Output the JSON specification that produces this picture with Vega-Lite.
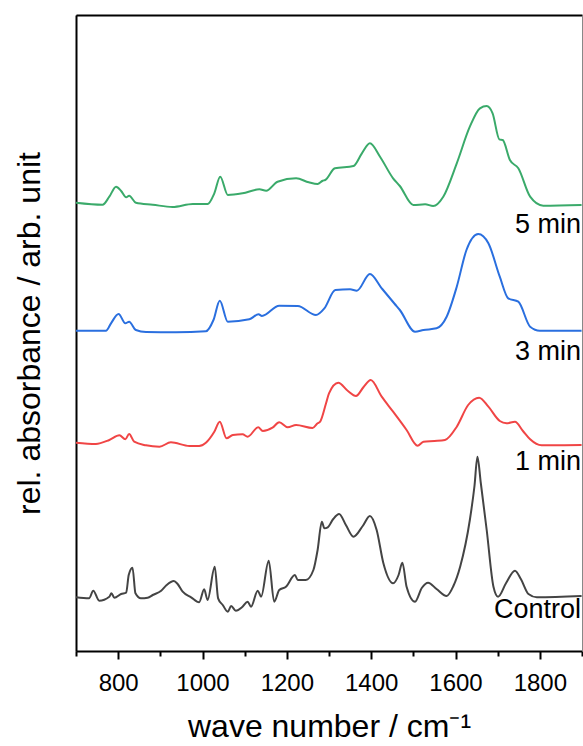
{
  "$schema": "https://vega.github.io/schema/vega-lite/v6.json",
  "width": 506,
  "height": 636,
  "autosize": "none",
  "padding": {"left": 76, "top": 15, "right": 1, "bottom": 95},
  "config": {
    "view": {"stroke": "#888", "strokeWidth": 1},
    "font": "Liberation Sans",
    "axis": {"grid": false, "labelFont": "Liberation Sans", "titleFont": "Liberation Sans", "labelColor": "#000", "titleColor": "#000", "titleFontWeight": "normal"}
  },
  "datasets": {
    "spectra": [
      {"s":"Control","w":700,"a":0.537},{"s":"Control","w":731,"a":0.527},{"s":"Control","w":741,"a":0.603},{"s":"Control","w":755,"a":0.503},{"s":"Control","w":779,"a":0.543},{"s":"Control","w":784,"a":0.577},{"s":"Control","w":791,"a":0.533},{"s":"Control","w":807,"a":0.57},{"s":"Control","w":819,"a":0.583},{"s":"Control","w":825,"a":0.76},{"s":"Control","w":834,"a":0.833},{"s":"Control","w":841,"a":0.577},{"s":"Control","w":854,"a":0.527},{"s":"Control","w":870,"a":0.533},{"s":"Control","w":882,"a":0.56},{"s":"Control","w":902,"a":0.603},{"s":"Control","w":915,"a":0.66},{"s":"Control","w":932,"a":0.70},{"s":"Control","w":941,"a":0.67},{"s":"Control","w":953,"a":0.593},{"s":"Control","w":973,"a":0.537},{"s":"Control","w":992,"a":0.487},{"s":"Control","w":1004,"a":0.617},{"s":"Control","w":1012,"a":0.51},{"s":"Control","w":1029,"a":0.843},{"s":"Control","w":1037,"a":0.527},{"s":"Control","w":1048,"a":0.46},{"s":"Control","w":1060,"a":0.393},{"s":"Control","w":1068,"a":0.45},{"s":"Control","w":1079,"a":0.403},{"s":"Control","w":1095,"a":0.443},{"s":"Control","w":1107,"a":0.493},{"s":"Control","w":1115,"a":0.443},{"s":"Control","w":1131,"a":0.603},{"s":"Control","w":1139,"a":0.543},{"s":"Control","w":1157,"a":0.903},{"s":"Control","w":1170,"a":0.493},{"s":"Control","w":1182,"a":0.61},{"s":"Control","w":1198,"a":0.643},{"s":"Control","w":1219,"a":0.76},{"s":"Control","w":1226,"a":0.71},{"s":"Control","w":1245,"a":0.71},{"s":"Control","w":1263,"a":0.81},{"s":"Control","w":1273,"a":1.01},{"s":"Control","w":1283,"a":1.293},{"s":"Control","w":1289,"a":1.227},{"s":"Control","w":1297,"a":1.237},{"s":"Control","w":1310,"a":1.32},{"s":"Control","w":1324,"a":1.37},{"s":"Control","w":1340,"a":1.26},{"s":"Control","w":1358,"a":1.143},{"s":"Control","w":1380,"a":1.25},{"s":"Control","w":1397,"a":1.35},{"s":"Control","w":1413,"a":1.21},{"s":"Control","w":1429,"a":0.877},{"s":"Control","w":1452,"a":0.677},{"s":"Control","w":1465,"a":0.76},{"s":"Control","w":1474,"a":0.883},{"s":"Control","w":1484,"a":0.643},{"s":"Control","w":1504,"a":0.493},{"s":"Control","w":1520,"a":0.63},{"s":"Control","w":1535,"a":0.683},{"s":"Control","w":1555,"a":0.62},{"s":"Control","w":1579,"a":0.55},{"s":"Control","w":1595,"a":0.65},{"s":"Control","w":1611,"a":0.843},{"s":"Control","w":1634,"a":1.31},{"s":"Control","w":1645,"a":1.65},{"s":"Control","w":1652,"a":1.943},{"s":"Control","w":1660,"a":1.68},{"s":"Control","w":1674,"a":1.21},{"s":"Control","w":1690,"a":0.643},{"s":"Control","w":1701,"a":0.543},{"s":"Control","w":1720,"a":0.68},{"s":"Control","w":1741,"a":0.803},{"s":"Control","w":1755,"a":0.72},{"s":"Control","w":1773,"a":0.57},{"s":"Control","w":1793,"a":0.537},{"s":"Control","w":1899,"a":0.55},

      {"s":"1 min","w":700,"a":2.083},{"s":"1 min","w":747,"a":2.07},{"s":"1 min","w":779,"a":2.11},{"s":"1 min","w":803,"a":2.157},{"s":"1 min","w":817,"a":2.117},{"s":"1 min","w":826,"a":2.17},{"s":"1 min","w":838,"a":2.093},{"s":"1 min","w":866,"a":2.057},{"s":"1 min","w":898,"a":2.043},{"s":"1 min","w":925,"a":2.087},{"s":"1 min","w":969,"a":2.05},{"s":"1 min","w":992,"a":2.05},{"s":"1 min","w":1008,"a":2.083},{"s":"1 min","w":1028,"a":2.193},{"s":"1 min","w":1041,"a":2.293},{"s":"1 min","w":1057,"a":2.127},{"s":"1 min","w":1072,"a":2.16},{"s":"1 min","w":1095,"a":2.167},{"s":"1 min","w":1107,"a":2.143},{"s":"1 min","w":1132,"a":2.237},{"s":"1 min","w":1143,"a":2.20},{"s":"1 min","w":1166,"a":2.233},{"s":"1 min","w":1182,"a":2.287},{"s":"1 min","w":1202,"a":2.237},{"s":"1 min","w":1222,"a":2.26},{"s":"1 min","w":1261,"a":2.23},{"s":"1 min","w":1273,"a":2.277},{"s":"1 min","w":1279,"a":2.293},{"s":"1 min","w":1293,"a":2.477},{"s":"1 min","w":1300,"a":2.577},{"s":"1 min","w":1322,"a":2.683},{"s":"1 min","w":1345,"a":2.6},{"s":"1 min","w":1364,"a":2.55},{"s":"1 min","w":1382,"a":2.64},{"s":"1 min","w":1399,"a":2.71},{"s":"1 min","w":1425,"a":2.543},{"s":"1 min","w":1452,"a":2.393},{"s":"1 min","w":1484,"a":2.21},{"s":"1 min","w":1510,"a":2.053},{"s":"1 min","w":1524,"a":2.093},{"s":"1 min","w":1550,"a":2.10},{"s":"1 min","w":1575,"a":2.11},{"s":"1 min","w":1603,"a":2.243},{"s":"1 min","w":1630,"a":2.46},{"s":"1 min","w":1656,"a":2.533},{"s":"1 min","w":1678,"a":2.443},{"s":"1 min","w":1705,"a":2.30},{"s":"1 min","w":1721,"a":2.277},{"s":"1 min","w":1741,"a":2.293},{"s":"1 min","w":1760,"a":2.2},{"s":"1 min","w":1777,"a":2.117},{"s":"1 min","w":1804,"a":2.057},{"s":"1 min","w":1899,"a":2.06},

      {"s":"3 min","w":700,"a":3.203},{"s":"3 min","w":771,"a":3.203},{"s":"3 min","w":783,"a":3.277},{"s":"3 min","w":801,"a":3.37},{"s":"3 min","w":817,"a":3.277},{"s":"3 min","w":826,"a":3.293},{"s":"3 min","w":842,"a":3.21},{"s":"3 min","w":866,"a":3.19},{"s":"3 min","w":937,"a":3.187},{"s":"3 min","w":1008,"a":3.197},{"s":"3 min","w":1026,"a":3.31},{"s":"3 min","w":1041,"a":3.503},{"s":"3 min","w":1060,"a":3.293},{"s":"3 min","w":1111,"a":3.317},{"s":"3 min","w":1133,"a":3.367},{"s":"3 min","w":1141,"a":3.35},{"s":"3 min","w":1182,"a":3.453},{"s":"3 min","w":1226,"a":3.45},{"s":"3 min","w":1269,"a":3.36},{"s":"3 min","w":1289,"a":3.427},{"s":"3 min","w":1315,"a":3.61},{"s":"3 min","w":1350,"a":3.617},{"s":"3 min","w":1366,"a":3.603},{"s":"3 min","w":1397,"a":3.77},{"s":"3 min","w":1425,"a":3.627},{"s":"3 min","w":1456,"a":3.47},{"s":"3 min","w":1468,"a":3.41},{"s":"3 min","w":1504,"a":3.193},{"s":"3 min","w":1524,"a":3.21},{"s":"3 min","w":1555,"a":3.227},{"s":"3 min","w":1579,"a":3.343},{"s":"3 min","w":1603,"a":3.643},{"s":"3 min","w":1626,"a":4.01},{"s":"3 min","w":1654,"a":4.17},{"s":"3 min","w":1678,"a":4.077},{"s":"3 min","w":1705,"a":3.743},{"s":"3 min","w":1725,"a":3.527},{"s":"3 min","w":1749,"a":3.493},{"s":"3 min","w":1777,"a":3.243},{"s":"3 min","w":1800,"a":3.203},{"s":"3 min","w":1899,"a":3.203},

      {"s":"5 min","w":700,"a":4.483},{"s":"5 min","w":763,"a":4.463},{"s":"5 min","w":779,"a":4.543},{"s":"5 min","w":795,"a":4.643},{"s":"5 min","w":807,"a":4.60},{"s":"5 min","w":819,"a":4.537},{"s":"5 min","w":826,"a":4.553},{"s":"5 min","w":842,"a":4.483},{"s":"5 min","w":882,"a":4.463},{"s":"5 min","w":929,"a":4.44},{"s":"5 min","w":977,"a":4.47},{"s":"5 min","w":1012,"a":4.47},{"s":"5 min","w":1028,"a":4.577},{"s":"5 min","w":1042,"a":4.743},{"s":"5 min","w":1060,"a":4.56},{"s":"5 min","w":1095,"a":4.577},{"s":"5 min","w":1135,"a":4.617},{"s":"5 min","w":1151,"a":4.603},{"s":"5 min","w":1178,"a":4.693},{"s":"5 min","w":1222,"a":4.727},{"s":"5 min","w":1252,"a":4.687},{"s":"5 min","w":1273,"a":4.67},{"s":"5 min","w":1285,"a":4.703},{"s":"5 min","w":1291,"a":4.71},{"s":"5 min","w":1314,"a":4.827},{"s":"5 min","w":1358,"a":4.85},{"s":"5 min","w":1378,"a":4.977},{"s":"5 min","w":1397,"a":5.077},{"s":"5 min","w":1421,"a":4.943},{"s":"5 min","w":1452,"a":4.727},{"s":"5 min","w":1468,"a":4.65},{"s":"5 min","w":1500,"a":4.46},{"s":"5 min","w":1528,"a":4.467},{"s":"5 min","w":1547,"a":4.45},{"s":"5 min","w":1571,"a":4.543},{"s":"5 min","w":1603,"a":4.877},{"s":"5 min","w":1634,"a":5.243},{"s":"5 min","w":1658,"a":5.427},{"s":"5 min","w":1674,"a":5.45},{"s":"5 min","w":1688,"a":5.377},{"s":"5 min","w":1704,"a":5.117},{"s":"5 min","w":1712,"a":5.11},{"s":"5 min","w":1729,"a":4.91},{"s":"5 min","w":1749,"a":4.827},{"s":"5 min","w":1777,"a":4.543},{"s":"5 min","w":1808,"a":4.453},{"s":"5 min","w":1899,"a":4.46}
    ],
    "labelsA": [
      {"s":"5 min","w":1900,"a":4.18},
      {"s":"3 min","w":1900,"a":2.91}
    ],
    "labelsB": [
      {"s":"1 min","w":1900,"a":1.81},
      {"s":"Control","w":1900,"a":0.33}
    ]
  },
  "layer": [
    {
      "data": {"name": "spectra"},
      "mark": {"type": "line", "strokeWidth": 2, "interpolate": "monotone"},
      "encoding": {
        "x": {"field": "w", "type": "quantitative", "scale": {"domain": [700, 1900], "nice": false},
          "axis": {"orient": "bottom", "values": [700, 800, 900, 1000, 1100, 1200, 1300, 1400, 1500, 1600, 1700, 1800, 1900], "format": "d", "labelExpr": "datum.value % 200 == 0 && datum.value < 1900 ? datum.label : ''", "domainColor": "#000", "domainWidth": 2, "tickColor": "#000", "tickWidth": 2, "tickSize": {"condition": {"test": "datum.value % 200 == 0", "value": 8}, "value": 5}, "labelFontSize": 24, "labelPadding": 12, "labelFlush": false, "labelOverlap": false, "title": "wave number / cm⁻¹", "titleFontSize": 32, "titlePadding": 16}},
        "y": {"field": "a", "type": "quantitative", "scale": {"domain": [0, 6.36], "nice": false, "zero": false},
          "axis": {"orient": "left", "ticks": false, "labels": false, "domainColor": "#000", "domainWidth": 2, "title": "rel. absorbance / arb. unit", "titleFontSize": 32, "titlePadding": 30}},
        "color": {"field": "s", "type": "nominal", "scale": {"domain": ["Control", "1 min", "3 min", "5 min"], "range": ["#444444", "#f04545", "#2a6fdf", "#3aaa6a"]}, "legend": null}
      }
    },
    {
      "data": {"name": "labelsA"},
      "mark": {"type": "text", "align": "right", "baseline": "alphabetic", "fontSize": 27, "dx": -1, "color": "#000"},
      "encoding": {
        "x": {"field": "w", "type": "quantitative", "axis": null},
        "y": {"field": "a", "type": "quantitative", "axis": {"orient": "right", "ticks": false, "labels": false, "domainColor": "#888", "domainWidth": 1, "title": null}},
        "text": {"field": "s"}
      }
    },
    {
      "data": {"name": "labelsB"},
      "mark": {"type": "text", "align": "right", "baseline": "alphabetic", "fontSize": 27, "dx": -1, "color": "#000"},
      "encoding": {
        "x": {"field": "w", "type": "quantitative", "axis": {"orient": "top", "ticks": false, "labels": false, "domainColor": "#000", "domainWidth": 2, "title": null}},
        "y": {"field": "a", "type": "quantitative", "axis": null},
        "text": {"field": "s"}
      }
    }
  ],
  "resolve": {"axis": {"x": "independent", "y": "independent"}}
}
